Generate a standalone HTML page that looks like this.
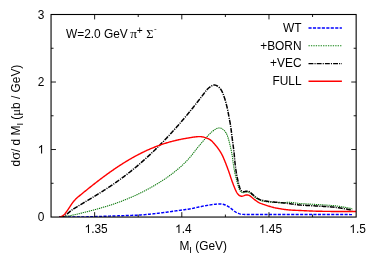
<!DOCTYPE html>
<html><head><meta charset="utf-8"><style>
html,body{margin:0;padding:0;background:#fff;}
svg{display:block;will-change:transform;opacity:0.999;}
text{font-family:"Liberation Sans",sans-serif;font-size:11.9px;fill:#000;}
.sym{font-family:"Liberation Serif",serif;}
</style></head><body>
<svg width="374" height="267" viewBox="0 0 374 267">
<defs><path id="one" d="M373 0H285V560Q253 530 201 499T108 454V539Q182 574 237 623T316 720H373Z"/></defs>
<rect width="374" height="267" fill="#fff"/>
<clipPath id="cp"><rect x="51.05" y="14.5" width="305.09999999999997" height="202.55"/></clipPath>
<g fill="none" stroke-linejoin="round" clip-path="url(#cp)">
<path d="M59.00,217.00 L59.75,217.00 L60.50,217.00 L61.25,217.00 L62.00,217.01 L62.75,217.01 L63.50,217.01 L64.25,217.01 L65.00,217.02 L65.75,217.02 L66.50,217.02 L67.25,217.02 L68.00,217.02 L68.75,217.03 L69.50,217.03 L70.25,217.03 L71.00,217.03 L71.75,217.03 L72.50,217.03 L73.25,217.03 L74.00,217.03 L74.75,217.03 L75.50,217.03 L76.25,217.02 L77.00,217.02 L77.75,217.02 L78.50,217.01 L79.25,217.01 L80.00,217.00 L80.75,216.99 L81.50,216.98 L82.25,216.97 L83.00,216.95 L83.75,216.94 L84.50,216.92 L85.25,216.90 L86.00,216.88 L86.75,216.86 L87.50,216.84 L88.25,216.82 L89.00,216.80 L89.75,216.77 L90.50,216.75 L91.25,216.72 L92.00,216.70 L92.75,216.67 L93.49,216.65 L94.24,216.62 L94.99,216.60 L95.74,216.58 L96.49,216.55 L97.24,216.53 L97.99,216.51 L98.74,216.48 L99.49,216.46 L100.24,216.43 L100.99,216.41 L101.74,216.38 L102.49,216.36 L103.24,216.33 L103.99,216.31 L104.74,216.28 L105.49,216.25 L106.24,216.23 L106.99,216.20 L107.74,216.18 L108.49,216.15 L109.24,216.13 L109.99,216.10 L110.74,216.08 L111.49,216.05 L112.23,216.03 L112.98,216.00 L113.73,215.98 L114.48,215.95 L115.23,215.93 L115.98,215.91 L116.73,215.88 L117.48,215.86 L118.23,215.83 L118.98,215.81 L119.73,215.78 L120.48,215.76 L121.23,215.73 L121.98,215.71 L122.73,215.68 L123.48,215.65 L124.23,215.63 L124.98,215.60 L125.73,215.57 L126.48,215.55 L127.23,215.52 L127.98,215.50 L128.73,215.47 L129.47,215.45 L130.22,215.42 L130.97,215.40 L131.72,215.37 L132.47,215.34 L133.22,215.32 L133.97,215.29 L134.72,215.26 L135.47,215.23 L136.22,215.19 L136.97,215.16 L137.72,215.12 L138.47,215.08 L139.22,215.04 L139.96,215.00 L140.71,214.95 L141.46,214.90 L142.21,214.85 L142.96,214.79 L143.71,214.74 L144.45,214.68 L145.20,214.61 L145.95,214.55 L146.69,214.48 L147.44,214.41 L148.19,214.34 L148.93,214.27 L149.68,214.20 L150.43,214.12 L151.17,214.05 L151.92,213.97 L152.67,213.89 L153.41,213.81 L154.16,213.73 L154.90,213.65 L155.65,213.57 L156.39,213.48 L157.14,213.39 L157.88,213.30 L158.63,213.21 L159.37,213.12 L160.12,213.03 L160.86,212.94 L161.60,212.84 L162.35,212.75 L163.09,212.65 L163.84,212.55 L164.58,212.45 L165.32,212.36 L166.07,212.26 L166.81,212.16 L167.55,212.05 L168.29,211.95 L169.04,211.84 L169.78,211.74 L170.52,211.63 L171.26,211.53 L172.01,211.42 L172.75,211.31 L173.49,211.20 L174.23,211.10 L174.98,210.99 L175.72,210.88 L176.46,210.78 L177.20,210.67 L177.95,210.57 L178.69,210.47 L179.43,210.37 L180.18,210.27 L180.92,210.17 L181.66,210.07 L182.41,209.97 L183.15,209.88 L183.89,209.78 L184.64,209.68 L185.38,209.58 L186.12,209.48 L186.87,209.38 L187.61,209.27 L188.35,209.16 L189.09,209.04 L189.83,208.92 L190.57,208.79 L191.31,208.65 L192.04,208.51 L192.78,208.35 L193.51,208.19 L194.24,208.03 L194.97,207.86 L195.70,207.69 L196.43,207.52 L197.16,207.35 L197.90,207.19 L198.63,207.04 L199.36,206.88 L200.10,206.73 L200.83,206.59 L201.57,206.44 L202.31,206.30 L203.04,206.15 L203.78,206.01 L204.52,205.88 L205.25,205.74 L205.99,205.61 L206.73,205.48 L207.47,205.35 L208.21,205.23 L208.95,205.11 L209.69,204.99 L210.43,204.87 L211.17,204.76 L211.92,204.65 L212.66,204.54 L213.40,204.44 L214.14,204.35 L214.89,204.26 L215.63,204.17 L216.38,204.10 L217.13,204.03 L217.88,203.98 L218.62,203.95 L219.37,203.94 L220.12,203.96 L220.87,204.01 L221.62,204.08 L222.36,204.18 L223.09,204.32 L223.82,204.49 L224.54,204.70 L225.24,204.96 L225.93,205.25 L226.60,205.58 L227.25,205.94 L227.90,206.33 L228.53,206.73 L229.16,207.14 L229.78,207.56 L230.38,208.00 L230.98,208.46 L231.56,208.93 L232.14,209.41 L232.71,209.89 L233.29,210.37 L233.89,210.82 L234.50,211.26 L235.12,211.67 L235.77,212.05 L236.43,212.41 L237.10,212.74 L237.77,213.06 L238.46,213.36 L239.15,213.65 L239.85,213.91 L240.56,214.12 L241.28,214.27 L242.02,214.35 L242.77,214.39 L243.52,214.40 L244.27,214.42 L245.02,214.43 L245.77,214.43 L246.52,214.43 L247.27,214.43 L248.02,214.43 L248.77,214.43 L249.52,214.43 L250.27,214.42 L251.02,214.42 L251.77,214.42 L252.52,214.41 L253.27,214.41 L254.02,214.41 L254.77,214.41 L255.52,214.40 L256.27,214.40 L257.02,214.40 L257.77,214.40 L258.52,214.40 L259.27,214.40 L260.02,214.40 L260.77,214.40 L261.52,214.40 L262.27,214.40 L263.02,214.40 L263.77,214.40 L264.52,214.40 L265.27,214.40 L266.02,214.41 L266.77,214.41 L267.52,214.41 L268.27,214.41 L269.02,214.41 L269.77,214.41 L270.52,214.41 L271.27,214.41 L272.02,214.41 L272.77,214.41 L273.52,214.41 L274.27,214.41 L275.02,214.41 L275.77,214.42 L276.52,214.42 L277.27,214.42 L278.02,214.42 L278.77,214.42 L279.52,214.42 L280.27,214.42 L281.02,214.42 L281.77,214.42 L282.52,214.42 L283.27,214.42 L284.02,214.42 L284.77,214.43 L285.52,214.43 L286.27,214.43 L287.02,214.43 L287.77,214.43 L288.52,214.43 L289.27,214.43 L290.02,214.43 L290.77,214.43 L291.52,214.43 L292.27,214.44 L293.02,214.44 L293.77,214.44 L294.52,214.44 L295.27,214.44 L296.02,214.44 L296.77,214.44 L297.52,214.45 L298.27,214.45 L299.02,214.45 L299.77,214.45 L300.52,214.45 L301.27,214.45 L302.02,214.45 L302.77,214.46 L303.52,214.46 L304.27,214.46 L305.02,214.46 L305.77,214.46 L306.52,214.47 L307.27,214.47 L308.02,214.47 L308.77,214.47 L309.52,214.48 L310.27,214.48 L311.02,214.48 L311.77,214.48 L312.52,214.49 L313.27,214.49 L314.02,214.49 L314.77,214.49 L315.52,214.50 L316.27,214.50 L317.02,214.50 L317.77,214.51 L318.52,214.51 L319.27,214.51 L320.02,214.51 L320.77,214.52 L321.52,214.52 L322.27,214.52 L323.02,214.53 L323.77,214.53 L324.52,214.53 L325.27,214.53 L326.02,214.54 L326.77,214.54 L327.52,214.54 L328.27,214.54 L329.02,214.55 L329.77,214.55 L330.52,214.55 L331.27,214.55 L332.02,214.56 L332.77,214.56 L333.52,214.56 L334.27,214.56 L335.02,214.56 L335.77,214.57 L336.52,214.57 L337.27,214.57 L338.02,214.57 L338.77,214.57 L339.52,214.57 L340.27,214.58 L341.02,214.58 L341.77,214.58 L342.52,214.58 L343.27,214.58 L344.02,214.58 L344.77,214.59 L345.52,214.59 L346.27,214.59 L347.02,214.59 L347.77,214.59 L348.52,214.59 L349.27,214.59 L350.02,214.60 L350.77,214.60 L351.52,214.60 L352.00,214.60" stroke="#0000ff" stroke-width="1.45" stroke-dasharray="3.1 1.35"/>
<path d="M60.00,217.00 L60.75,216.95 L61.50,216.90 L62.24,216.85 L62.99,216.78 L63.74,216.70 L64.48,216.60 L65.22,216.49 L65.96,216.37 L66.70,216.24 L67.44,216.11 L68.18,215.98 L68.91,215.84 L69.65,215.70 L70.39,215.56 L71.12,215.41 L71.86,215.26 L72.59,215.11 L73.33,214.96 L74.06,214.80 L74.79,214.65 L75.53,214.49 L76.26,214.32 L76.99,214.16 L77.72,213.99 L78.45,213.82 L79.18,213.65 L79.91,213.48 L80.64,213.30 L81.37,213.13 L82.10,212.95 L82.83,212.77 L83.56,212.60 L84.29,212.42 L85.01,212.23 L85.74,212.05 L86.47,211.87 L87.19,211.68 L87.92,211.50 L88.65,211.31 L89.37,211.13 L90.10,210.94 L90.83,210.75 L91.55,210.56 L92.28,210.37 L93.00,210.17 L93.73,209.98 L94.45,209.78 L95.17,209.59 L95.90,209.39 L96.62,209.19 L97.34,208.99 L98.06,208.79 L98.79,208.58 L99.51,208.38 L100.23,208.17 L100.95,207.96 L101.67,207.75 L102.39,207.54 L103.11,207.33 L103.83,207.12 L104.55,206.90 L105.26,206.69 L105.98,206.47 L106.70,206.25 L107.42,206.03 L108.13,205.80 L108.85,205.58 L109.56,205.35 L110.28,205.12 L110.99,204.89 L111.70,204.66 L112.41,204.42 L113.12,204.18 L113.83,203.94 L114.54,203.69 L115.25,203.45 L115.96,203.20 L116.67,202.95 L117.37,202.69 L118.08,202.44 L118.78,202.18 L119.49,201.93 L120.19,201.67 L120.89,201.40 L121.60,201.14 L122.30,200.88 L123.00,200.61 L123.70,200.34 L124.40,200.07 L125.10,199.80 L125.79,199.52 L126.49,199.25 L127.19,198.97 L127.88,198.68 L128.57,198.39 L129.26,198.10 L129.95,197.81 L130.64,197.51 L131.33,197.21 L132.02,196.91 L132.70,196.61 L133.39,196.30 L134.07,195.99 L134.76,195.68 L135.44,195.37 L136.12,195.06 L136.80,194.75 L137.48,194.43 L138.16,194.11 L138.83,193.78 L139.51,193.46 L140.18,193.13 L140.86,192.80 L141.53,192.46 L142.20,192.12 L142.87,191.79 L143.53,191.45 L144.20,191.10 L144.87,190.76 L145.53,190.41 L146.20,190.06 L146.86,189.71 L147.52,189.36 L148.18,189.00 L148.84,188.64 L149.50,188.28 L150.15,187.92 L150.81,187.56 L151.46,187.19 L152.12,186.82 L152.77,186.45 L153.42,186.07 L154.07,185.70 L154.71,185.32 L155.36,184.94 L156.00,184.55 L156.65,184.17 L157.29,183.78 L157.93,183.39 L158.57,183.00 L159.21,182.60 L159.84,182.20 L160.48,181.80 L161.11,181.40 L161.74,181.00 L162.37,180.59 L163.00,180.18 L163.63,179.77 L164.25,179.35 L164.87,178.94 L165.50,178.52 L166.11,178.09 L166.73,177.67 L167.35,177.24 L167.96,176.81 L168.57,176.37 L169.18,175.93 L169.79,175.49 L170.39,175.05 L171.00,174.61 L171.60,174.16 L172.20,173.71 L172.80,173.26 L173.39,172.80 L173.98,172.34 L174.57,171.87 L175.16,171.41 L175.74,170.93 L176.32,170.46 L176.89,169.98 L177.47,169.49 L178.04,169.01 L178.61,168.52 L179.17,168.02 L179.73,167.53 L180.29,167.03 L180.85,166.53 L181.41,166.02 L181.96,165.52 L182.51,165.01 L183.06,164.49 L183.60,163.98 L184.14,163.46 L184.68,162.93 L185.21,162.41 L185.74,161.88 L186.27,161.34 L186.79,160.80 L187.30,160.26 L187.82,159.71 L188.32,159.16 L188.83,158.60 L189.32,158.04 L189.82,157.48 L190.31,156.91 L190.80,156.34 L191.28,155.77 L191.76,155.19 L192.23,154.60 L192.69,154.01 L193.15,153.42 L193.60,152.82 L194.05,152.22 L194.50,151.62 L194.95,151.02 L195.40,150.42 L195.86,149.83 L196.32,149.23 L196.78,148.65 L197.25,148.06 L197.73,147.48 L198.20,146.90 L198.68,146.32 L199.16,145.75 L199.64,145.17 L200.13,144.60 L200.61,144.03 L201.10,143.45 L201.58,142.88 L202.07,142.31 L202.55,141.74 L203.04,141.17 L203.52,140.60 L204.01,140.02 L204.50,139.46 L204.99,138.89 L205.49,138.33 L205.99,137.77 L206.49,137.21 L207.00,136.66 L207.51,136.11 L208.03,135.57 L208.55,135.04 L209.08,134.50 L209.62,133.98 L210.16,133.46 L210.70,132.94 L211.26,132.44 L211.81,131.94 L212.38,131.45 L212.96,130.97 L213.55,130.51 L214.15,130.06 L214.77,129.64 L215.40,129.24 L216.05,128.87 L216.73,128.55 L217.42,128.29 L218.14,128.10 L218.87,128.00 L219.61,127.99 L220.34,128.09 L221.05,128.28 L221.72,128.57 L222.36,128.95 L222.96,129.40 L223.52,129.88 L224.06,130.40 L224.58,130.94 L225.07,131.51 L225.53,132.10 L225.95,132.72 L226.34,133.36 L226.68,134.02 L226.99,134.70 L227.27,135.39 L227.53,136.10 L227.77,136.81 L228.00,137.52 L228.21,138.24 L228.42,138.96 L228.63,139.68 L228.84,140.40 L229.03,141.13 L229.22,141.85 L229.41,142.58 L229.59,143.31 L229.76,144.04 L229.93,144.77 L230.09,145.50 L230.26,146.23 L230.42,146.96 L230.59,147.69 L230.75,148.43 L230.91,149.16 L231.08,149.89 L231.24,150.62 L231.40,151.35 L231.55,152.09 L231.70,152.82 L231.85,153.56 L231.98,154.30 L232.11,155.04 L232.23,155.78 L232.35,156.52 L232.45,157.26 L232.54,158.00 L232.63,158.75 L232.72,159.49 L232.80,160.24 L232.89,160.98 L232.99,161.73 L233.09,162.47 L233.19,163.21 L233.30,163.95 L233.41,164.70 L233.53,165.44 L233.65,166.18 L233.76,166.92 L233.88,167.66 L234.01,168.40 L234.13,169.14 L234.26,169.88 L234.40,170.61 L234.54,171.35 L234.68,172.09 L234.83,172.82 L234.98,173.56 L235.14,174.29 L235.31,175.02 L235.48,175.75 L235.65,176.48 L235.83,177.21 L236.01,177.94 L236.19,178.67 L236.38,179.39 L236.57,180.12 L236.76,180.84 L236.95,181.57 L237.15,182.29 L237.35,183.01 L237.55,183.74 L237.76,184.46 L237.97,185.18 L238.19,185.89 L238.41,186.61 L238.64,187.32 L238.88,188.03 L239.13,188.74 L239.40,189.44 L239.70,190.13 L240.04,190.78 L240.45,191.39 L240.95,191.92 L241.54,192.32 L242.20,192.58 L242.91,192.68 L243.64,192.65 L244.38,192.53 L245.11,192.38 L245.84,192.22 L246.58,192.11 L247.31,192.07 L248.04,192.13 L248.75,192.30 L249.41,192.60 L250.03,193.00 L250.61,193.47 L251.17,193.97 L251.72,194.47 L252.28,194.98 L252.84,195.48 L253.40,195.98 L253.96,196.47 L254.53,196.95 L255.12,197.42 L255.72,197.86 L256.34,198.29 L256.97,198.70 L257.60,199.10 L258.25,199.47 L258.92,199.82 L259.59,200.13 L260.29,200.41 L261.00,200.66 L261.71,200.87 L262.44,201.05 L263.17,201.20 L263.91,201.33 L264.65,201.45 L265.39,201.56 L266.14,201.66 L266.88,201.75 L267.63,201.83 L268.37,201.90 L269.12,201.97 L269.87,202.04 L270.62,202.10 L271.36,202.16 L272.11,202.22 L272.86,202.27 L273.61,202.33 L274.35,202.38 L275.10,202.43 L275.85,202.48 L276.60,202.53 L277.35,202.57 L278.10,202.61 L278.85,202.64 L279.60,202.66 L280.35,202.68 L281.10,202.69 L281.85,202.68 L282.59,202.66 L283.34,202.62 L284.09,202.57 L284.84,202.51 L285.59,202.45 L286.33,202.39 L287.08,202.35 L287.83,202.31 L288.58,202.30 L289.33,202.31 L290.08,202.33 L290.83,202.38 L291.57,202.45 L292.32,202.53 L293.06,202.63 L293.81,202.73 L294.55,202.84 L295.29,202.94 L296.03,203.05 L296.78,203.15 L297.52,203.24 L298.27,203.32 L299.01,203.40 L299.76,203.47 L300.51,203.54 L301.25,203.59 L302.00,203.65 L302.75,203.70 L303.50,203.75 L304.25,203.79 L305.00,203.84 L305.74,203.88 L306.49,203.93 L307.24,203.97 L307.99,204.01 L308.74,204.05 L309.49,204.09 L310.24,204.13 L310.99,204.18 L311.74,204.22 L312.48,204.26 L313.23,204.30 L313.98,204.34 L314.73,204.39 L315.48,204.43 L316.23,204.48 L316.98,204.52 L317.72,204.57 L318.47,204.62 L319.22,204.66 L319.97,204.71 L320.72,204.75 L321.47,204.79 L322.22,204.84 L322.97,204.88 L323.71,204.93 L324.46,204.97 L325.21,205.02 L325.96,205.07 L326.71,205.11 L327.46,205.16 L328.20,205.21 L328.95,205.26 L329.70,205.32 L330.45,205.37 L331.20,205.43 L331.94,205.49 L332.69,205.56 L333.44,205.63 L334.18,205.70 L334.93,205.78 L335.68,205.87 L336.42,205.96 L337.16,206.06 L337.91,206.16 L338.65,206.27 L339.39,206.39 L340.13,206.51 L340.87,206.63 L341.61,206.75 L342.35,206.88 L343.09,207.00 L343.83,207.13 L344.57,207.25 L345.30,207.39 L346.04,207.52 L346.78,207.66 L347.52,207.80 L348.25,207.94 L348.99,208.08 L349.73,208.22 L350.46,208.36 L351.20,208.51 L351.94,208.65 L352.20,208.70" stroke="#0a780a" stroke-width="1.05" stroke-dasharray="1.3 0.8"/>
<path d="M59.50,217.00 L60.25,216.92 L60.99,216.83 L61.73,216.72 L62.46,216.58 L63.18,216.39 L63.88,216.13 L64.54,215.80 L65.17,215.40 L65.78,214.96 L66.37,214.51 L66.95,214.04 L67.54,213.56 L68.12,213.09 L68.70,212.62 L69.28,212.14 L69.86,211.67 L70.44,211.20 L71.03,210.73 L71.62,210.27 L72.22,209.82 L72.84,209.39 L73.46,208.97 L74.09,208.57 L74.73,208.18 L75.37,207.79 L76.02,207.41 L76.66,207.02 L77.30,206.63 L77.95,206.25 L78.59,205.86 L79.23,205.47 L79.87,205.08 L80.51,204.70 L81.16,204.31 L81.80,203.92 L82.44,203.54 L83.08,203.15 L83.73,202.76 L84.37,202.38 L85.01,201.99 L85.66,201.60 L86.30,201.22 L86.94,200.83 L87.59,200.45 L88.23,200.06 L88.87,199.68 L89.52,199.29 L90.16,198.90 L90.80,198.52 L91.44,198.13 L92.09,197.74 L92.73,197.35 L93.37,196.97 L94.01,196.58 L94.65,196.18 L95.29,195.79 L95.93,195.40 L96.57,195.01 L97.21,194.62 L97.85,194.22 L98.48,193.83 L99.12,193.43 L99.76,193.04 L100.39,192.64 L101.03,192.24 L101.66,191.84 L102.30,191.44 L102.93,191.04 L103.56,190.63 L104.19,190.23 L104.82,189.82 L105.45,189.42 L106.08,189.01 L106.71,188.60 L107.34,188.19 L107.97,187.78 L108.59,187.37 L109.22,186.95 L109.84,186.54 L110.47,186.12 L111.09,185.70 L111.71,185.28 L112.33,184.86 L112.95,184.43 L113.57,184.01 L114.19,183.59 L114.80,183.16 L115.42,182.73 L116.03,182.30 L116.65,181.87 L117.26,181.44 L117.87,181.00 L118.48,180.57 L119.09,180.13 L119.70,179.69 L120.31,179.25 L120.91,178.81 L121.52,178.37 L122.12,177.92 L122.72,177.47 L123.32,177.03 L123.93,176.58 L124.52,176.13 L125.12,175.67 L125.72,175.22 L126.32,174.77 L126.91,174.31 L127.50,173.85 L128.10,173.39 L128.69,172.93 L129.28,172.47 L129.87,172.00 L130.45,171.54 L131.04,171.07 L131.63,170.60 L132.21,170.13 L132.79,169.66 L133.38,169.18 L133.96,168.71 L134.54,168.23 L135.11,167.76 L135.69,167.28 L136.27,166.80 L136.84,166.32 L137.42,165.83 L137.99,165.35 L138.56,164.86 L139.13,164.37 L139.70,163.89 L140.27,163.40 L140.83,162.90 L141.40,162.41 L141.96,161.92 L142.53,161.42 L143.09,160.93 L143.65,160.43 L144.21,159.93 L144.77,159.43 L145.33,158.93 L145.88,158.42 L146.44,157.92 L146.99,157.41 L147.54,156.91 L148.09,156.40 L148.64,155.89 L149.19,155.38 L149.74,154.87 L150.29,154.35 L150.84,153.84 L151.38,153.32 L151.92,152.81 L152.47,152.29 L153.01,151.77 L153.55,151.25 L154.09,150.73 L154.63,150.21 L155.16,149.68 L155.70,149.16 L156.23,148.63 L156.77,148.11 L157.30,147.58 L157.83,147.05 L158.36,146.52 L158.89,145.99 L159.42,145.46 L159.95,144.92 L160.48,144.39 L161.01,143.86 L161.53,143.33 L162.06,142.79 L162.59,142.26 L163.11,141.72 L163.63,141.18 L164.15,140.64 L164.67,140.10 L165.19,139.56 L165.70,139.01 L166.22,138.46 L166.73,137.92 L167.24,137.37 L167.75,136.82 L168.26,136.27 L168.77,135.72 L169.28,135.17 L169.78,134.61 L170.29,134.06 L170.80,133.51 L171.31,132.96 L171.81,132.41 L172.32,131.85 L172.83,131.30 L173.33,130.74 L173.84,130.19 L174.34,129.64 L174.85,129.08 L175.35,128.52 L175.85,127.96 L176.35,127.40 L176.84,126.84 L177.34,126.28 L177.83,125.71 L178.32,125.15 L178.82,124.58 L179.31,124.01 L179.80,123.45 L180.29,122.88 L180.78,122.31 L181.27,121.75 L181.76,121.18 L182.25,120.61 L182.73,120.04 L183.22,119.47 L183.71,118.90 L184.19,118.32 L184.68,117.75 L185.16,117.18 L185.64,116.60 L186.12,116.02 L186.60,115.45 L187.08,114.87 L187.56,114.29 L188.03,113.71 L188.51,113.14 L188.99,112.56 L189.47,111.98 L189.94,111.40 L190.42,110.82 L190.89,110.24 L191.37,109.66 L191.84,109.08 L192.32,108.50 L192.79,107.91 L193.25,107.33 L193.72,106.74 L194.18,106.15 L194.65,105.56 L195.11,104.97 L195.58,104.38 L196.04,103.79 L196.51,103.20 L196.97,102.61 L197.43,102.02 L197.89,101.43 L198.36,100.84 L198.82,100.25 L199.28,99.66 L199.74,99.07 L200.21,98.48 L200.67,97.89 L201.13,97.30 L201.59,96.70 L202.04,96.11 L202.49,95.51 L202.94,94.91 L203.39,94.31 L203.83,93.70 L204.27,93.10 L204.72,92.49 L205.17,91.89 L205.63,91.30 L206.10,90.72 L206.59,90.15 L207.09,89.59 L207.60,89.05 L208.13,88.52 L208.68,88.01 L209.25,87.52 L209.84,87.05 L210.44,86.61 L211.07,86.20 L211.71,85.82 L212.38,85.49 L213.07,85.24 L213.79,85.07 L214.52,85.03 L215.24,85.12 L215.94,85.32 L216.62,85.62 L217.27,85.99 L217.88,86.41 L218.48,86.86 L219.04,87.35 L219.58,87.87 L220.08,88.42 L220.55,89.01 L220.98,89.62 L221.38,90.25 L221.74,90.91 L222.07,91.58 L222.39,92.26 L222.68,92.94 L222.97,93.64 L223.24,94.34 L223.50,95.04 L223.76,95.75 L224.01,96.45 L224.25,97.16 L224.49,97.87 L224.72,98.59 L224.94,99.30 L225.16,100.02 L225.37,100.74 L225.58,101.46 L225.78,102.18 L225.98,102.91 L226.17,103.63 L226.35,104.36 L226.54,105.09 L226.71,105.81 L226.89,106.54 L227.06,107.27 L227.22,108.01 L227.38,108.74 L227.54,109.47 L227.69,110.21 L227.84,110.94 L227.99,111.68 L228.14,112.41 L228.28,113.15 L228.42,113.88 L228.56,114.62 L228.70,115.36 L228.84,116.10 L228.98,116.83 L229.12,117.57 L229.26,118.31 L229.40,119.04 L229.54,119.78 L229.68,120.52 L229.81,121.25 L229.95,121.99 L230.08,122.73 L230.21,123.47 L230.33,124.21 L230.45,124.95 L230.56,125.69 L230.67,126.43 L230.78,127.18 L230.88,127.92 L230.98,128.66 L231.08,129.41 L231.18,130.15 L231.28,130.89 L231.37,131.64 L231.46,132.38 L231.55,133.13 L231.65,133.87 L231.74,134.61 L231.83,135.36 L231.92,136.10 L232.01,136.85 L232.11,137.59 L232.20,138.34 L232.30,139.08 L232.39,139.82 L232.49,140.57 L232.59,141.31 L232.69,142.05 L232.79,142.80 L232.89,143.54 L232.99,144.28 L233.09,145.03 L233.20,145.77 L233.30,146.51 L233.40,147.26 L233.50,148.00 L233.60,148.74 L233.69,149.49 L233.79,150.23 L233.88,150.97 L233.96,151.72 L234.05,152.47 L234.12,153.21 L234.20,153.96 L234.26,154.70 L234.33,155.45 L234.39,156.20 L234.45,156.95 L234.51,157.69 L234.57,158.44 L234.63,159.19 L234.70,159.94 L234.77,160.68 L234.84,161.43 L234.92,162.17 L235.01,162.92 L235.09,163.67 L235.18,164.41 L235.27,165.15 L235.36,165.90 L235.45,166.64 L235.55,167.39 L235.65,168.13 L235.75,168.87 L235.85,169.62 L235.96,170.36 L236.07,171.10 L236.18,171.84 L236.30,172.58 L236.43,173.32 L236.56,174.06 L236.69,174.80 L236.83,175.54 L236.97,176.27 L237.12,177.01 L237.27,177.74 L237.43,178.48 L237.58,179.21 L237.74,179.94 L237.91,180.67 L238.08,181.40 L238.25,182.13 L238.42,182.86 L238.60,183.59 L238.79,184.32 L238.99,185.04 L239.19,185.76 L239.41,186.48 L239.64,187.19 L239.88,187.90 L240.15,188.60 L240.45,189.29 L240.79,189.95 L241.20,190.56 L241.69,191.09 L242.27,191.48 L242.93,191.69 L243.63,191.73 L244.36,191.63 L245.09,191.48 L245.82,191.33 L246.56,191.21 L247.29,191.17 L248.02,191.22 L248.73,191.39 L249.39,191.70 L250.00,192.10 L250.57,192.58 L251.12,193.09 L251.67,193.60 L252.22,194.11 L252.77,194.62 L253.33,195.12 L253.89,195.61 L254.47,196.10 L255.05,196.56 L255.65,197.02 L256.26,197.45 L256.88,197.87 L257.51,198.28 L258.15,198.67 L258.80,199.04 L259.47,199.37 L260.16,199.67 L260.86,199.93 L261.57,200.16 L262.29,200.35 L263.02,200.53 L263.76,200.68 L264.49,200.82 L265.23,200.95 L265.97,201.07 L266.71,201.19 L267.45,201.30 L268.20,201.40 L268.94,201.50 L269.69,201.59 L270.43,201.68 L271.17,201.77 L271.92,201.86 L272.67,201.94 L273.41,202.02 L274.16,202.09 L274.90,202.16 L275.65,202.22 L276.40,202.28 L277.15,202.34 L277.89,202.40 L278.64,202.45 L279.39,202.51 L280.14,202.58 L280.88,202.65 L281.63,202.72 L282.38,202.80 L283.12,202.88 L283.87,202.96 L284.61,203.05 L285.36,203.14 L286.10,203.23 L286.84,203.33 L287.59,203.42 L288.33,203.52 L289.08,203.61 L289.82,203.71 L290.56,203.80 L291.31,203.91 L292.05,204.01 L292.79,204.12 L293.53,204.23 L294.28,204.33 L295.02,204.44 L295.76,204.53 L296.51,204.63 L297.25,204.72 L298.00,204.80 L298.74,204.88 L299.49,204.95 L300.24,205.01 L300.98,205.08 L301.73,205.13 L302.48,205.19 L303.23,205.24 L303.98,205.28 L304.73,205.33 L305.47,205.37 L306.22,205.42 L306.97,205.46 L307.72,205.50 L308.47,205.54 L309.22,205.58 L309.97,205.62 L310.72,205.66 L311.47,205.71 L312.21,205.75 L312.96,205.79 L313.71,205.83 L314.46,205.87 L315.21,205.92 L315.96,205.96 L316.71,206.01 L317.46,206.05 L318.20,206.10 L318.95,206.14 L319.70,206.19 L320.45,206.23 L321.20,206.28 L321.95,206.32 L322.70,206.37 L323.44,206.41 L324.19,206.46 L324.94,206.50 L325.69,206.55 L326.44,206.60 L327.19,206.64 L327.94,206.69 L328.68,206.74 L329.43,206.80 L330.18,206.85 L330.93,206.91 L331.68,206.97 L332.42,207.03 L333.17,207.10 L333.92,207.18 L334.66,207.25 L335.41,207.34 L336.15,207.43 L336.90,207.52 L337.64,207.62 L338.38,207.73 L339.12,207.85 L339.86,207.96 L340.60,208.08 L341.34,208.21 L342.08,208.33 L342.82,208.45 L343.56,208.58 L344.30,208.71 L345.04,208.84 L345.78,208.97 L346.51,209.11 L347.25,209.25 L347.99,209.39 L348.73,209.53 L349.46,209.67 L350.20,209.81 L350.93,209.96 L351.67,210.10 L352.20,210.20" stroke="#000" stroke-width="1.5" stroke-dasharray="4.9 1.1 1.1 1.1"/>
<path d="M59.50,217.00 L60.22,216.79 L60.93,216.56 L61.63,216.30 L62.30,215.98 L62.94,215.60 L63.54,215.16 L64.09,214.66 L64.60,214.11 L65.09,213.54 L65.55,212.96 L66.01,212.37 L66.46,211.77 L66.90,211.16 L67.33,210.55 L67.76,209.93 L68.18,209.31 L68.60,208.69 L69.01,208.06 L69.42,207.43 L69.83,206.80 L70.24,206.17 L70.65,205.54 L71.06,204.92 L71.48,204.30 L71.91,203.68 L72.34,203.07 L72.78,202.46 L73.24,201.87 L73.72,201.29 L74.20,200.72 L74.71,200.16 L75.22,199.62 L75.74,199.08 L76.28,198.56 L76.83,198.04 L77.38,197.54 L77.95,197.05 L78.52,196.57 L79.11,196.10 L79.69,195.62 L80.27,195.15 L80.86,194.68 L81.44,194.21 L82.02,193.73 L82.60,193.26 L83.18,192.78 L83.76,192.31 L84.34,191.83 L84.92,191.36 L85.51,190.89 L86.09,190.42 L86.68,189.95 L87.26,189.48 L87.84,189.01 L88.43,188.54 L89.01,188.07 L89.60,187.60 L90.18,187.13 L90.77,186.67 L91.36,186.20 L91.95,185.73 L92.53,185.27 L93.12,184.80 L93.71,184.34 L94.30,183.88 L94.89,183.42 L95.49,182.96 L96.08,182.50 L96.67,182.04 L97.27,181.58 L97.86,181.12 L98.45,180.66 L99.05,180.21 L99.65,179.75 L100.24,179.30 L100.84,178.85 L101.44,178.40 L102.04,177.95 L102.64,177.50 L103.24,177.05 L103.85,176.60 L104.45,176.16 L105.05,175.71 L105.66,175.27 L106.26,174.83 L106.87,174.38 L107.48,173.94 L108.08,173.51 L108.69,173.07 L109.30,172.63 L109.92,172.20 L110.53,171.77 L111.14,171.33 L111.76,170.90 L112.37,170.47 L112.99,170.05 L113.60,169.62 L114.22,169.20 L114.84,168.77 L115.46,168.35 L116.08,167.93 L116.70,167.51 L117.33,167.09 L117.95,166.68 L118.58,166.27 L119.21,165.86 L119.83,165.45 L120.46,165.04 L121.09,164.63 L121.73,164.23 L122.36,163.82 L122.99,163.42 L123.63,163.02 L124.26,162.63 L124.90,162.23 L125.54,161.84 L126.18,161.45 L126.82,161.06 L127.46,160.67 L128.11,160.29 L128.75,159.90 L129.40,159.52 L130.05,159.15 L130.69,158.77 L131.35,158.40 L132.00,158.02 L132.65,157.65 L133.30,157.29 L133.96,156.92 L134.62,156.56 L135.27,156.20 L135.93,155.85 L136.59,155.49 L137.26,155.14 L137.92,154.79 L138.59,154.44 L139.25,154.10 L139.92,153.76 L140.59,153.42 L141.26,153.08 L141.93,152.75 L142.60,152.42 L143.28,152.09 L143.95,151.76 L144.63,151.44 L145.31,151.12 L145.99,150.81 L146.67,150.49 L147.35,150.18 L148.04,149.87 L148.72,149.57 L149.41,149.27 L150.10,148.97 L150.79,148.67 L151.48,148.38 L152.17,148.09 L152.86,147.81 L153.56,147.53 L154.26,147.25 L154.95,146.98 L155.65,146.70 L156.35,146.43 L157.05,146.17 L157.76,145.90 L158.46,145.64 L159.16,145.38 L159.87,145.13 L160.57,144.88 L161.28,144.63 L161.99,144.38 L162.70,144.15 L163.41,143.91 L164.13,143.68 L164.84,143.45 L165.56,143.23 L166.28,143.01 L166.99,142.79 L167.71,142.58 L168.43,142.36 L169.15,142.15 L169.87,141.95 L170.60,141.75 L171.32,141.55 L172.04,141.36 L172.77,141.17 L173.50,140.99 L174.22,140.81 L174.95,140.63 L175.68,140.45 L176.41,140.28 L177.14,140.11 L177.87,139.95 L178.61,139.78 L179.34,139.62 L180.07,139.47 L180.81,139.31 L181.54,139.16 L182.28,139.02 L183.01,138.87 L183.75,138.73 L184.49,138.60 L185.23,138.47 L185.96,138.34 L186.70,138.21 L187.44,138.09 L188.18,137.96 L188.92,137.85 L189.67,137.73 L190.41,137.61 L191.15,137.50 L191.89,137.38 L192.63,137.27 L193.37,137.16 L194.11,137.05 L194.86,136.95 L195.60,136.86 L196.35,136.77 L197.09,136.70 L197.84,136.64 L198.59,136.60 L199.34,136.59 L200.09,136.61 L200.83,136.66 L201.58,136.75 L202.31,136.87 L203.05,137.01 L203.78,137.17 L204.51,137.36 L205.23,137.56 L205.94,137.79 L206.65,138.04 L207.35,138.31 L208.04,138.60 L208.71,138.93 L209.37,139.29 L210.00,139.68 L210.61,140.12 L211.20,140.58 L211.76,141.07 L212.30,141.59 L212.82,142.13 L213.33,142.68 L213.83,143.24 L214.32,143.81 L214.81,144.38 L215.30,144.95 L215.78,145.52 L216.26,146.09 L216.74,146.67 L217.21,147.26 L217.66,147.85 L218.11,148.46 L218.54,149.07 L218.96,149.69 L219.37,150.32 L219.78,150.95 L220.18,151.58 L220.57,152.22 L220.96,152.86 L221.33,153.51 L221.69,154.17 L222.05,154.83 L222.39,155.50 L222.71,156.17 L223.03,156.85 L223.34,157.54 L223.64,158.23 L223.93,158.92 L224.22,159.61 L224.50,160.30 L224.78,161.00 L225.06,161.69 L225.34,162.39 L225.62,163.09 L225.89,163.79 L226.16,164.48 L226.43,165.18 L226.70,165.88 L226.97,166.59 L227.23,167.29 L227.49,167.99 L227.75,168.70 L228.01,169.40 L228.26,170.11 L228.52,170.81 L228.77,171.52 L229.02,172.23 L229.26,172.93 L229.50,173.64 L229.74,174.35 L229.98,175.07 L230.22,175.78 L230.45,176.49 L230.69,177.20 L230.93,177.91 L231.17,178.62 L231.41,179.33 L231.65,180.04 L231.90,180.75 L232.15,181.46 L232.41,182.16 L232.66,182.87 L232.93,183.57 L233.19,184.27 L233.46,184.97 L233.73,185.67 L234.00,186.37 L234.28,187.07 L234.56,187.76 L234.85,188.45 L235.15,189.14 L235.45,189.83 L235.77,190.51 L236.10,191.18 L236.44,191.85 L236.80,192.50 L237.19,193.14 L237.62,193.75 L238.09,194.33 L238.61,194.87 L239.17,195.35 L239.79,195.74 L240.45,196.03 L241.16,196.18 L241.89,196.20 L242.62,196.10 L243.34,195.93 L244.05,195.70 L244.75,195.44 L245.45,195.18 L246.16,194.99 L246.89,194.91 L247.62,194.95 L248.34,195.10 L249.03,195.36 L249.68,195.70 L250.30,196.11 L250.89,196.58 L251.46,197.06 L252.02,197.55 L252.60,198.03 L253.18,198.51 L253.76,198.98 L254.35,199.45 L254.94,199.90 L255.54,200.35 L256.15,200.79 L256.77,201.22 L257.39,201.64 L258.02,202.04 L258.67,202.42 L259.32,202.78 L259.99,203.11 L260.68,203.42 L261.37,203.70 L262.07,203.96 L262.78,204.21 L263.49,204.44 L264.21,204.68 L264.92,204.91 L265.63,205.14 L266.35,205.37 L267.06,205.60 L267.78,205.82 L268.49,206.05 L269.21,206.27 L269.93,206.49 L270.65,206.70 L271.37,206.91 L272.09,207.10 L272.82,207.29 L273.54,207.47 L274.27,207.65 L275.01,207.81 L275.74,207.97 L276.47,208.12 L277.21,208.26 L277.95,208.40 L278.69,208.53 L279.42,208.66 L280.16,208.78 L280.90,208.90 L281.65,209.02 L282.39,209.13 L283.13,209.24 L283.87,209.35 L284.61,209.45 L285.36,209.54 L286.10,209.63 L286.85,209.72 L287.59,209.79 L288.34,209.87 L289.09,209.93 L289.83,210.00 L290.58,210.05 L291.33,210.11 L292.08,210.15 L292.83,210.19 L293.58,210.23 L294.33,210.26 L295.08,210.30 L295.82,210.33 L296.57,210.36 L297.32,210.39 L298.07,210.42 L298.82,210.45 L299.57,210.48 L300.32,210.52 L301.07,210.55 L301.82,210.58 L302.57,210.62 L303.32,210.65 L304.07,210.69 L304.82,210.72 L305.57,210.76 L306.31,210.79 L307.06,210.83 L307.81,210.86 L308.56,210.89 L309.31,210.93 L310.06,210.96 L310.81,210.99 L311.56,211.02 L312.31,211.05 L313.06,211.08 L313.81,211.11 L314.56,211.13 L315.31,211.16 L316.06,211.18 L316.81,211.20 L317.56,211.22 L318.31,211.24 L319.06,211.26 L319.81,211.28 L320.56,211.29 L321.31,211.31 L322.05,211.32 L322.80,211.33 L323.55,211.34 L324.30,211.35 L325.05,211.36 L325.80,211.37 L326.55,211.38 L327.30,211.39 L328.05,211.40 L328.80,211.41 L329.55,211.41 L330.30,211.42 L331.05,211.43 L331.80,211.44 L332.55,211.44 L333.30,211.45 L334.05,211.46 L334.80,211.46 L335.55,211.47 L336.30,211.48 L337.05,211.48 L337.80,211.49 L338.55,211.49 L339.30,211.49 L340.05,211.50 L340.80,211.50 L341.55,211.50 L342.30,211.50 L343.05,211.50 L343.80,211.50 L344.55,211.50 L345.30,211.50 L346.05,211.50 L346.80,211.50 L347.55,211.49 L348.30,211.49 L349.05,211.49 L349.80,211.49 L350.55,211.48 L351.30,211.48 L352.05,211.47 L352.80,211.47 L353.55,211.47 L354.30,211.46 L355.05,211.46 L355.80,211.45 L356.30,211.45" stroke="#ff0000" stroke-width="1.4"/>
</g>
<g stroke="#000" stroke-width="1.1" fill="none">
<rect x="51.05" y="14.5" width="305.09999999999997" height="202.55"/>
<g stroke-width="0.9"><line x1="94.64" y1="217.05" x2="94.64" y2="212.15"/><line x1="94.64" y1="14.50" x2="94.64" y2="19.40"/><line x1="138.22" y1="217.05" x2="138.22" y2="214.55"/><line x1="138.22" y1="14.50" x2="138.22" y2="17.00"/><line x1="181.81" y1="217.05" x2="181.81" y2="212.15"/><line x1="181.81" y1="14.50" x2="181.81" y2="19.40"/><line x1="225.39" y1="217.05" x2="225.39" y2="214.55"/><line x1="225.39" y1="14.50" x2="225.39" y2="17.00"/><line x1="268.98" y1="217.05" x2="268.98" y2="212.15"/><line x1="268.98" y1="14.50" x2="268.98" y2="19.40"/><line x1="312.56" y1="217.05" x2="312.56" y2="214.55"/><line x1="312.56" y1="14.50" x2="312.56" y2="17.00"/><line x1="51.05" y1="183.29" x2="53.55" y2="183.29"/><line x1="356.15" y1="183.29" x2="353.65" y2="183.29"/><line x1="51.05" y1="149.53" x2="55.95" y2="149.53"/><line x1="356.15" y1="149.53" x2="351.25" y2="149.53"/><line x1="51.05" y1="115.78" x2="53.55" y2="115.78"/><line x1="356.15" y1="115.78" x2="353.65" y2="115.78"/><line x1="51.05" y1="82.02" x2="55.95" y2="82.02"/><line x1="356.15" y1="82.02" x2="351.25" y2="82.02"/><line x1="51.05" y1="48.26" x2="53.55" y2="48.26"/><line x1="356.15" y1="48.26" x2="353.65" y2="48.26"/></g>
</g>
<use href="#one" transform="translate(84.56,233.00) scale(0.01190,-0.01190)"/><text x="91.17" y="233.00">.35</text><use href="#one" transform="translate(175.04,233.00) scale(0.01190,-0.01190)"/><text x="181.65" y="233.00">.4</text><use href="#one" transform="translate(258.90,233.00) scale(0.01190,-0.01190)"/><text x="265.52" y="233.00">.45</text><use href="#one" transform="translate(349.38,233.00) scale(0.01190,-0.01190)"/><text x="356.00" y="233.00">.5</text>
<text x="44.3" y="221.45" text-anchor="end">0</text><use href="#one" transform="translate(37.68,153.53) scale(0.01190,-0.01190)"/><text x="44.3" y="86.02" text-anchor="end">2</text><text x="44.3" y="19.00" text-anchor="end">3</text>
<text x="66" y="37.7">W=2.0 GeV <tspan class="sym" font-size="13.5" dx="-0.8">π</tspan><tspan dy="-3.8" font-size="10.2" dx="-0.4">+</tspan><tspan dy="3.8" dx="0.3"> </tspan><tspan class="sym" font-size="12.5">Σ</tspan><tspan dy="-7" font-size="8" dx="0.5">-</tspan></text>
<text x="301.5" y="31.8" text-anchor="end">WT</text>
<text x="301.5" y="49.55" text-anchor="end">+BORN</text>
<text x="301.5" y="67.3" text-anchor="end">+VEC</text>
<text x="301.5" y="85.05" text-anchor="end">FULL</text>
<g fill="none">
<line x1="308.5" y1="27.95" x2="341.9" y2="27.95" stroke="#0000ff" stroke-width="1.45" stroke-dasharray="3.1 1.35"/>
<line x1="308.5" y1="45.7" x2="341.9" y2="45.7" stroke="#0c800c" stroke-width="1.15" stroke-dasharray="1.3 1.13"/>
<line x1="308.5" y1="63.6" x2="341.9" y2="63.6" stroke="#000" stroke-width="1.3" stroke-dasharray="4.9 1.1 1.1 1.1"/>
<line x1="308.5" y1="81.2" x2="341.9" y2="81.2" stroke="#ff0000" stroke-width="1.4"/>
</g>
<text x="203.2" y="250.1" text-anchor="middle">M<tspan dy="3" font-size="9.5">I</tspan><tspan dy="-3"> (GeV)</tspan></text>
<text transform="translate(19.9,115.6) rotate(-90)" text-anchor="middle">d<tspan class="sym" font-size="14.5">σ</tspan>/ d M<tspan dy="3" font-size="9.5">I</tspan><tspan dy="-3"> (</tspan><tspan class="sym" font-size="12.5">μ</tspan>b / GeV)</text>
</svg>
</body></html>
